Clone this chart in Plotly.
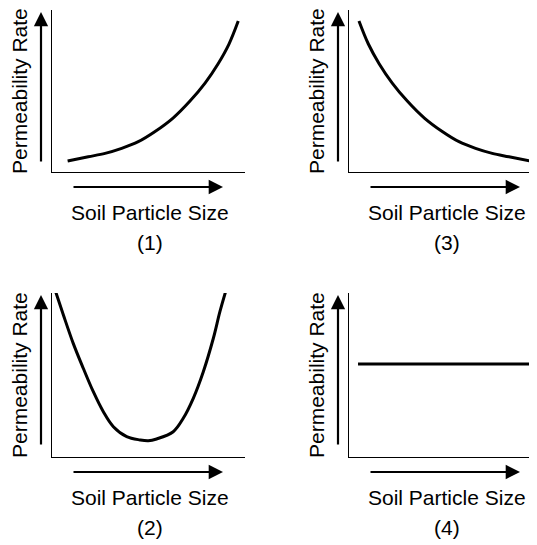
import plotly.graph_objects as go

W, H = 537, 545
PAGE_PAD = 8  # default body margin of the html page

# curve values (x = soil particle size, y = permeability rate, 0-100 scale)
size_1 = [8.1, 18.8, 27.5, 36.1, 44.7, 53.4, 62.7, 71.5, 79.3, 86.0, 91.7, 96.5]
rate_1 = [6.8, 9.4, 11.5, 14.6, 18.7, 25.0, 33.3, 43.8, 54.9, 66.7, 79.0, 93.2]

size_3 = [5.3, 10.3, 16.1, 23.0, 31.0, 40.1, 49.6, 58.5, 67.3, 76.2, 85.1, 96.1]
rate_3 = [93.2, 79.0, 66.7, 54.9, 43.8, 33.3, 25.0, 18.7, 14.6, 11.5, 9.4, 6.8]

size_2 = [1.6, 5.9, 11.0, 16.2, 21.4, 26.6, 31.8, 38.7, 45.6, 49.9, 54.2, 62.8,
          68.0, 73.2, 78.4, 83.6, 87.0, 90.2]
rate_2 = [101.8, 86.6, 69.3, 54.1, 39.8, 27.6, 18.5, 12.4, 10.4, 9.9, 11.0, 15.4,
          23.6, 35.8, 52.0, 72.4, 88.6, 101.8]

size_4 = [4.8, 98.4]
rate_4 = [56.7, 56.7]

panel_labels = ["(1)", "(3)", "(2)", "(4)"]
x_title = "Soil Particle Size"
y_title = "Permeability Rate"

FW, FH = W - PAGE_PAD, H - PAGE_PAD


def px(x):
    return (x - PAGE_PAD) / FW


def py(y):
    return 1 - (y - PAGE_PAD) / FH


FONT = dict(family="Liberation Sans, Arial, sans-serif", size=21, color="black")

fig = go.Figure()

# (axis suffix, x-pixel span, y-pixel span (bottom, top), data)
panels = [
    ("", (52, 245), (172, 10), size_1, rate_1),
    ("2", (349, 537), (172, 10), size_3, rate_3),
    ("3", (52, 245), (457, 293), size_2, rate_2),
    ("4", (349, 537), (457, 293), size_4, rate_4),
]

layout = dict(
    width=FW, height=FH,
    margin=dict(l=0, r=0, t=0, b=0),
    paper_bgcolor="white", plot_bgcolor="white",
    showlegend=False,
)

annotations = []
for i, (sfx, (x0, x1), (yb, yt), xs, ys) in enumerate(panels):
    fig.add_trace(go.Scatter(
        x=xs, y=ys, mode="lines", line=dict(color="black", width=3, shape="spline"),
        xaxis="x" + sfx, yaxis="y" + sfx, hoverinfo="skip",
    ))
    axis_common = dict(
        range=[0, 100], showgrid=False, zeroline=False, showticklabels=False, ticks="",
        showline=True, linecolor="black", linewidth=1.3, mirror=False, fixedrange=True,
    )
    layout["xaxis" + sfx] = dict(axis_common, domain=[px(x0), min(px(x1), 1)], anchor="y" + sfx)
    layout["yaxis" + sfx] = dict(axis_common, domain=[py(yb), py(yt)], anchor="x" + sfx)

    # arrows beside the axes
    annotations.append(dict(
        xref="paper", yref="paper", x=px(x0 - 11), y=py(yt + 2), ax=0, ay=151,
        axref="pixel", ayref="pixel", text="", showarrow=True,
        arrowhead=2, arrowsize=1.3, arrowwidth=2.2, arrowcolor="black",
    ))
    annotations.append(dict(
        xref="paper", yref="paper", x=px(x0 + 171), y=py(yb + 15), ax=-151, ay=0,
        axref="pixel", ayref="pixel", text="", showarrow=True,
        arrowhead=2, arrowsize=1.3, arrowwidth=2.2, arrowcolor="black",
    ))

    cx = x0 + 98
    annotations.append(dict(
        xref="paper", yref="paper", x=px(cx), y=py(yb + 40), text=x_title,
        showarrow=False, font=FONT, xanchor="center", yanchor="middle",
    ))
    annotations.append(dict(
        xref="paper", yref="paper", x=px(cx), y=py(yb + 70), text=panel_labels[i],
        showarrow=False, font=FONT, xanchor="center", yanchor="middle",
    ))
    annotations.append(dict(
        xref="paper", yref="paper", x=px(x0 - 33), y=py((yb + yt) / 2), text=y_title,
        textangle=-90, showarrow=False, font=FONT, xanchor="center", yanchor="middle",
    ))

layout["annotations"] = annotations
fig.update_layout(**layout)

fig.write_html("out.html")
